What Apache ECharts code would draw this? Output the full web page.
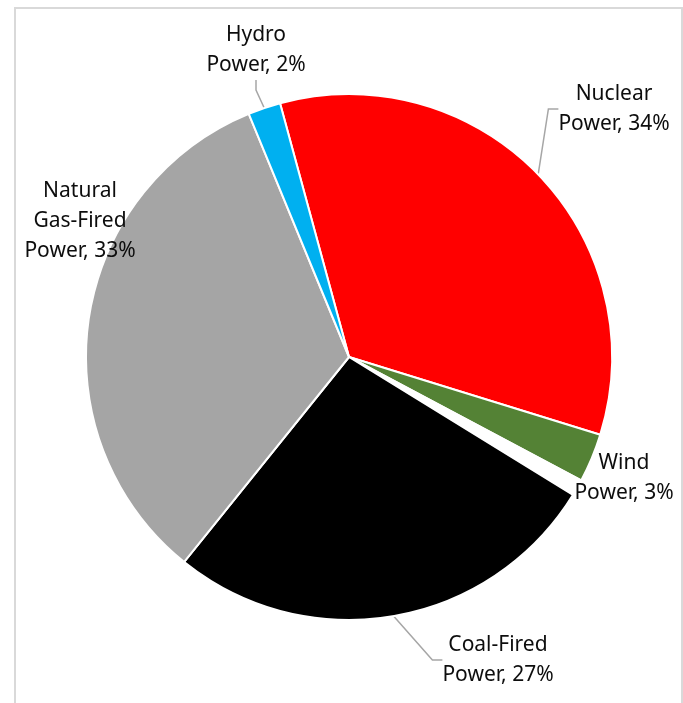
<!DOCTYPE html>
<html>
<head>
<meta charset="utf-8">
<script src="https://cdn.jsdelivr.net/npm/echarts@6/dist/echarts.min.js"></script>
<style>
html,body{margin:0;padding:0;background:#fff;}
#chart{width:683px;height:703px;}
</style>
</head>
<body>
<div id="chart"></div>
<script>
const categories = ['Nuclear Power', 'Wind Power', 'Other', 'Coal-Fired Power', 'Natural Gas-Fired Power', 'Hydro Power'];
const labelTexts = ['Nuclear\nPower, 34%', 'Wind\nPower, 3%', '', 'Coal-Fired\nPower, 27%', 'Natural\nGas-Fired\nPower, 33%', 'Hydro\nPower, 2%'];
const shares = [34, 3, 1, 27, 33, 2];
const colors = ['#FF0000', '#548235', '#FFFFFF', '#000000', '#A5A5A5', '#00B0F0'];

const chart = echarts.init(document.getElementById('chart'));

const labelPlace = {
  'Nuclear Power': [614, 109, true],
  'Wind Power': [624, 478, false],
  'Coal-Fired Power': [498, 660, true],
  'Natural Gas-Fired Power': [80, 221, false],
  'Hydro Power': [256, 50, true]
};

const data = categories.map((name, i) => ({
  name: name,
  value: shares[i],
  itemStyle: { color: colors[i] },
  label: { show: name !== 'Other', formatter: labelTexts[i] },
  labelLine: { show: labelPlace[name] ? labelPlace[name][2] : false }
}));

chart.setOption({
  animation: false,
  backgroundColor: '#ffffff',
  graphic: [{
    type: 'rect',
    shape: { x: 15, y: 8, width: 667, height: 720 },
    style: { fill: 'none', stroke: '#d9d9d9', lineWidth: 2 },
    silent: true
  }],
  series: [{
    type: 'pie',
    center: [349, 357],
    radius: 263,
    startAngle: 105.2,
    clockwise: true,
    avoidLabelOverlap: false,
    itemStyle: { borderColor: '#ffffff', borderWidth: 2 },
    label: {
      show: true,
      position: 'outside',
      color: '#0d0d0d',
      fontFamily: 'Noto Sans',
      fontSize: 21,
      lineHeight: 30,
      align: 'center'
    },
    labelLine: {
      show: true,
      length: 20,
      length2: 10,
      lineStyle: { color: '#a6a6a6', width: 1.5 }
    },
    labelLayout: function (params) {
      const name = categories[params.dataIndex];
      const p = labelPlace[name];
      if (!p) return {};
      return { x: p[0], y: p[1], align: 'center', verticalAlign: 'middle' };
    },
    emphasis: { disabled: true },
    data: data
  }]
});
</script>
</body>
</html>
